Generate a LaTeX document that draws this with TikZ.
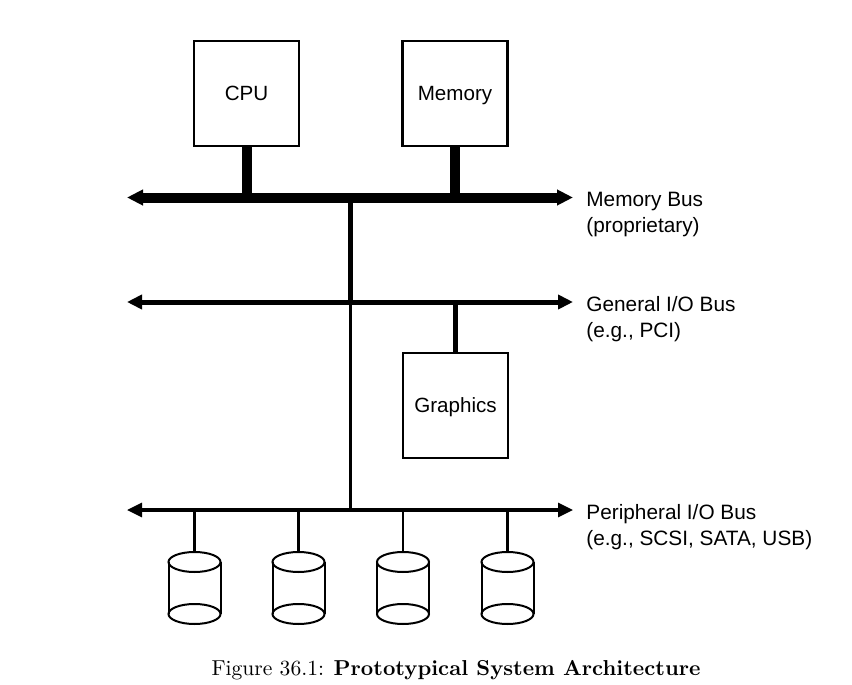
\documentclass[tikz,border=0pt]{standalone}
\usepackage{fontspec}
\newfontfamily\helv{Liberation Sans}
\usetikzlibrary{arrows.meta,positioning}
\tikzset{
	membus/.style={
		Triangle-Triangle,
		line width=5pt
	},
	iobus/.style={
		{Triangle[length=7.5pt,width=7pt]}-{Triangle[length=7.5pt,width=7pt]},
		line width=2.5pt
	},
	periphbus/.style={
		{Triangle[length=7.5pt,width=7pt]}-{Triangle[length=7.5pt,width=7pt]},
		line width=1.6pt
	}
}

\begin{document}
\begin{tikzpicture}[
					x=0.5pt,y=-0.5pt,
					component/.style={
						rectangle,
						draw=black, line width=1.3pt,
						minimum width=52.5pt,
						minimum height=52.5pt,
						inner sep=0pt,
						text height=7.4pt,
						text depth=0pt,
						font=\helv\fontsize{10.3}{13}\selectfont
					},
					buslabel/.style={
						anchor=north west,
						inner sep=0pt,
						align=left,
						font=\helv\fontsize{10.4}{13}\selectfont
					},
					disk/.style={line width=1pt},
					>={Triangle[length=8pt,width=7.5pt]}]

					\useasboundingbox (0,0) rectangle (852,685);

					%%% Nodes
					%% Top row
					\node at (246.5,93.5) [component] (cpu) {CPU};
					\node at (455,93.5) [component] (memory) {Memory};

					%% Graphics card
					\node at (455.5,405.5) [component] (graphics) {Graphics};

					%% Bus ends
					\coordinate (mbusL) at (127,197.5);
					\coordinate (mbusR) at (573,197.5);
					\coordinate (gbusL) at (127,302);
					\coordinate (gbusR) at (573,302);
					\coordinate (pbusL) at (127,510);
					\coordinate (pbusR) at (573,510);
					\coordinate (bridge) at (350.5,197.5);

					%% Bus labels
					\node[buslabel] (mbuslabel) at (586,191.5) {Memory Bus\\(proprietary)};
					\node[buslabel] (gbuslabel) at (586,296) {General I/O Bus\\(e.g., PCI)};
					\node[buslabel] (pbuslabel) at (586,504) {Peripheral I/O Bus\\(e.g., SCSI, SATA, USB)};

					%%% Connections
					%% Buses
					\draw [membus,<->] (mbusL) -- (mbusR);
					\draw [iobus] (gbusL) -- (gbusR);
					\draw [periphbus] (pbusL) -- (pbusR);

					%% Memory bus connections
					\draw [line width=5pt] (cpu.south) -- (cpu.south |- mbusL);
					\draw [line width=5pt] (memory.south) -- (memory.south |- mbusL);

					%% Bridges between buses
					\draw [line width=2.5pt] (bridge) -- (bridge |- gbusL);
					\draw [line width=1.4pt] (bridge |- gbusL) -- (bridge |- pbusL);

					%% General I/O connection
					\draw [line width=2.5pt] (graphics.north) -- (graphics.north |- gbusL);

					%% Disks on the peripheral bus
					\foreach \i/\x in {1/194.5,2/298.5,3/403,4/507.5} {
						\coordinate (disk\i) at (\x,552);
						\draw [line width=1.2pt] (disk\i) -- (disk\i |- pbusL);
						\draw [disk] (\x,562) ellipse [x radius=26,y radius=10];
						\draw [disk] (\x,614) ellipse [x radius=26,y radius=10];
						\draw [disk] (\x-26,562) -- (\x-26,614) (\x+26,562) -- (\x+26,614);
					}

					%%% Caption
					\node[anchor=base,inner sep=0pt,font=\fontsize{10.8}{13}\selectfont] (caption) at (456,675)
						{Figure 36.1: \textbf{Prototypical System Architecture}};
				\end{tikzpicture}
\end{document}
